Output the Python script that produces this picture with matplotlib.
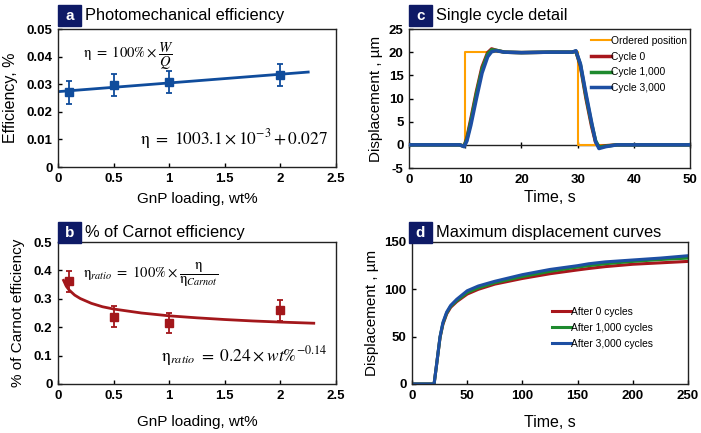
import matplotlib
matplotlib.use("Agg")
import matplotlib.pyplot as plt
from matplotlib.patches import Rectangle
from matplotlib.ticker import FuncFormatter

plt.rcParams['font.family'] = ['Liberation Sans', 'DejaVu Sans']
plt.rcParams['mathtext.fontset'] = 'stix'
plt.rcParams['axes.unicode_minus'] = False

# ---------------- data ----------------
# Panel a: photomechanical efficiency
a_x = [0.1, 0.5, 1.0, 2.0]
a_y = [0.0270, 0.0297, 0.0309, 0.0333]
a_err = [0.0040, 0.0041, 0.0040, 0.0040]
a_fit_x = [0.0, 2.25]
a_fit_y = [0.0273, 0.0344]

# Panel b: % of Carnot efficiency
b_x = [0.1, 0.5, 1.0, 2.0]
b_y = [0.362, 0.237, 0.214, 0.259]
b_err = [0.037, 0.037, 0.036, 0.037]
b_fit_x = [0.05, 0.075, 0.1, 0.15, 0.2, 0.3, 0.4, 0.5, 0.75, 1.0, 1.25, 1.5, 1.75, 2.0, 2.3]
b_fit_y = [0.365, 0.344, 0.331, 0.313, 0.301, 0.284, 0.272, 0.264, 0.250, 0.240, 0.233, 0.227, 0.222, 0.218, 0.214]

# Panel c: single cycle detail
c_ord_t = [0, 10, 10, 30, 30, 50]
c_ord_y = [0, 0, 20, 20, 0, 0]
c_t = [0, 9.0, 9.8, 10.3, 11.0, 12.0, 13.0, 14.0, 14.7, 15.5, 17.0, 20.0, 25.0,
       29.0, 29.7, 30.5, 31.5, 32.5, 33.2, 33.8, 35.0, 37.0, 40.0, 50.0]
c_cyc0 = [0, 0, -0.3, 1.5, 5.5, 11.5, 16.8, 19.9, 20.7, 20.4, 20.0, 19.9, 20.0,
          20.0, 20.2, 17.0, 10.0, 4.0, 0.6, -0.4, -0.2, 0, 0, 0]
c_cyc1000 = [0, 0, -0.3, 1.2, 5.0, 11.0, 16.3, 19.6, 20.5, 20.4, 20.0, 19.9, 20.0,
             20.0, 20.2, 17.3, 10.5, 4.5, 0.9, -0.5, -0.3, 0, 0, 0]
c_cyc3000 = [0, 0, -0.4, 0.8, 4.2, 10.0, 15.5, 19.0, 20.1, 20.3, 20.0, 19.9, 20.0,
             20.0, 20.3, 17.5, 11.0, 4.8, 0.7, -0.8, -0.4, 0, 0, 0]
c_labels = ['Ordered position', 'Cycle 0', 'Cycle 1,000', 'Cycle 3,000']

# Panel d: maximum displacement curves
d_t = [0, 20, 22, 25.4, 28, 31.4, 35, 40.5, 50, 60, 75, 100, 125, 150, 160, 175, 200, 225, 250]
d_c0 = [0, 0, 18, 49, 63, 74, 81, 87, 95, 100, 105.5, 111.5, 116.5, 120.5, 122, 124, 126.5, 128, 129.5]
d_c1000 = [0, 0, 18, 49.5, 64, 75, 82, 88, 96.5, 101.5, 107, 113.5, 119, 123.5, 125, 127, 129.5, 131.5, 133]
d_c3000 = [0, 0, 18, 50, 65, 76, 83, 89.5, 98.5, 103.5, 108.5, 115.5, 121, 125, 127, 129, 131, 133, 135.5]
d_labels = ['After 0 cycles', 'After 1,000 cycles', 'After 3,000 cycles']

# ---------------- styles ----------------
BLUE_A = '#0F4C9C'
RED_B = '#A3171B'
ORANGE = '#FFA000'
RED = '#A8161C'
GREEN = '#1E8A2E'
BLUE = '#1D4FA3'
NAVY = '#0E1A66'
LABEL_FS = 11

W, H = 701, 433
fig = plt.figure(figsize=(W / 100, H / 100), dpi=100)


def ax_rect(l, r, t, b):
    return [l / W, 1 - b / H, (r - l) / W, (b - t) / H]


def style(ax):
    for s in ax.spines.values():
        s.set_linewidth(1.0)
        s.set_color('#222222')
    ax.tick_params(direction='in', length=3, width=1, labelsize=9.5, pad=4)
    for lab in ax.get_xticklabels() + ax.get_yticklabels():
        lab.set_fontweight('bold')


def title_box(x0, y0, letter, text):
    fig.patches.append(Rectangle((x0 / W, 1 - (y0 + 21) / H), 23 / W, 21 / H,
                                 transform=fig.transFigure, color=NAVY, zorder=5))
    fig.text((x0 + 11.5) / W, 1 - (y0 + 10.5) / H, letter, color='white', fontsize=11,
             fontweight='bold', ha='center', va='center', zorder=6)
    fig.text((x0 + 27) / W, 1 - (y0 + 10.5) / H, text, color='black', fontsize=11.8,
             ha='left', va='center')


gfmt = FuncFormatter(lambda v, p: ('%g' % v))


def legend_at(ax, x, y, spacing):
    return ax.legend(loc='upper left', bbox_to_anchor=(x, y), frameon=False, fontsize=7.4,
                     handlelength=1.9, handletextpad=0.0, labelspacing=spacing,
                     borderaxespad=0.0, borderpad=0.0)


# ---- Panel a ----
ax_a = fig.add_axes(ax_rect(58, 336, 29, 167))
ax_a.plot(a_fit_x, a_fit_y, color=BLUE_A, lw=2)
ax_a.errorbar(a_x, a_y, yerr=a_err, fmt='s', color=BLUE_A, ms=6, capsize=2.5,
              elinewidth=1.3, capthick=1.3)
ax_a.set_xlim(0, 2.5)
ax_a.set_ylim(0, 0.05)
ax_a.set_xticks([0, 0.5, 1, 1.5, 2, 2.5])
ax_a.set_yticks([0, 0.01, 0.02, 0.03, 0.04, 0.05])
ax_a.xaxis.set_major_formatter(gfmt)
ax_a.yaxis.set_major_formatter(gfmt)
ax_a.set_xlabel('GnP loading, wt%', fontsize=LABEL_FS, labelpad=5)
ax_a.set_ylabel('Efficiency, %', fontsize=LABEL_FS + 0.5, labelpad=6)
ax_a.text(0.09, 0.8, r'$\mathrm{\eta}\ =\ 100\%\times\dfrac{W}{Q}$', transform=ax_a.transAxes,
          fontsize=10.5, ha='left', va='center')
ax_a.text(0.97, 0.2, r'$\mathrm{\eta}\ =\ 1003.1\times10^{-3}+0.027$', transform=ax_a.transAxes,
          fontsize=12.5, ha='right', va='center')
style(ax_a)

# ---- Panel b ----
ax_b = fig.add_axes(ax_rect(58, 336, 242, 384))
ax_b.plot(b_fit_x, b_fit_y, color=RED_B, lw=2)
ax_b.errorbar(b_x, b_y, yerr=b_err, fmt='s', color=RED_B, ms=6, capsize=2.5,
              elinewidth=1.3, capthick=1.3)
ax_b.set_xlim(0, 2.5)
ax_b.set_ylim(0, 0.5)
ax_b.set_xticks([0, 0.5, 1, 1.5, 2, 2.5])
ax_b.set_yticks([0, 0.1, 0.2, 0.3, 0.4, 0.5])
ax_b.xaxis.set_major_formatter(gfmt)
ax_b.yaxis.set_major_formatter(gfmt)
ax_b.set_xlabel('GnP loading, wt%', fontsize=LABEL_FS, labelpad=10)
ax_b.set_ylabel('% of Carnot efficiency', fontsize=LABEL_FS, labelpad=6)
ax_b.text(0.09, 0.77, r'$\mathrm{\eta}_{ratio}\ =\ 100\%\times\dfrac{\mathrm{\eta}}{\mathrm{\eta}_{Carnot}}$',
          transform=ax_b.transAxes, fontsize=10.5, ha='left', va='center')
ax_b.text(0.97, 0.2, r'$\mathrm{\eta}_{ratio}\ =\ 0.24\times wt\%^{-0.14}$', transform=ax_b.transAxes,
          fontsize=12.5, ha='right', va='center')
style(ax_b)

# ---- Panel c ----
ax_c = fig.add_axes(ax_rect(409, 690, 29, 168))
ax_c.plot(c_ord_t, c_ord_y, color=ORANGE, lw=1.5, label=c_labels[0], zorder=3)
ax_c.plot(c_t, c_cyc0, color=RED, lw=2.5, label=c_labels[1], zorder=4)
ax_c.plot(c_t, c_cyc1000, color=GREEN, lw=2.5, label=c_labels[2], zorder=5)
ax_c.plot(c_t, c_cyc3000, color=BLUE, lw=2.5, label=c_labels[3], zorder=6)
ax_c.set_xlim(0, 50)
ax_c.set_ylim(-5, 25)
ax_c.set_xticks([0, 10, 20, 30, 40, 50])
ax_c.set_yticks([-5, 0, 5, 10, 15, 20, 25])
ax_c.set_xlabel('Time, s', fontsize=LABEL_FS + 0.5, labelpad=3)
ax_c.set_ylabel('Displacement , µm', fontsize=LABEL_FS, labelpad=4)
style(ax_c)
ax_c.tick_params(axis='x', length=0)
sec = ax_c.secondary_xaxis(5 / 30)
sec.set_xticks([0, 10, 20, 30, 40, 50])
sec.tick_params(direction='inout', length=4, width=1, labelbottom=False, labeltop=False)
sec.spines['bottom'].set_linewidth(1.0)
sec.spines['bottom'].set_color('#222222')
legend_at(ax_c, 0.648, 0.95, 0.55)

# ---- Panel d ----
ax_d = fig.add_axes(ax_rect(412, 688, 242, 384))
ax_d.plot(d_t, d_c0, color=RED, lw=2.2, label=d_labels[0])
ax_d.plot(d_t, d_c1000, color=GREEN, lw=2.2, label=d_labels[1])
ax_d.plot(d_t, d_c3000, color=BLUE, lw=2.2, label=d_labels[2])
ax_d.set_xlim(0, 250)
ax_d.set_ylim(0, 150)
ax_d.set_xticks([0, 50, 100, 150, 200, 250])
ax_d.set_yticks([0, 50, 100, 150])
ax_d.set_xlabel('Time, s', fontsize=LABEL_FS + 0.5, labelpad=10)
ax_d.set_ylabel('Displacement , µm', fontsize=LABEL_FS, labelpad=4)
style(ax_d)
legend_at(ax_d, 0.507, 0.545, 0.6)

title_box(58, 5, 'a', 'Photomechanical efficiency')
title_box(409, 5, 'c', 'Single cycle detail')
title_box(58, 222, 'b', '% of Carnot efficiency')
title_box(409, 222, 'd', 'Maximum displacement curves')

fig.savefig('out.png', dpi=100)
